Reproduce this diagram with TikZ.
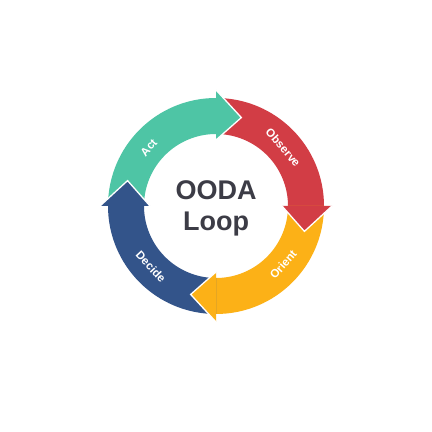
\documentclass[tikz,border=0pt]{standalone}
\usepackage{fontspec}
\setmainfont{Liberation Sans}
\definecolor{ooGreen}{HTML}{4EC5A5}
\definecolor{ooRed}{HTML}{D23D45}
\definecolor{ooYellow}{HTML}{FCB117}
\definecolor{ooBlue}{HTML}{33548A}
\definecolor{ooText}{HTML}{3C3C46}
\tikzset{
  seglabel/.style={text=white, font=\bfseries\fontsize{11.5}{12}\selectfont, inner sep=0pt},
  headedge/.style={draw=white, line width=1.3pt, line join=miter},
}
\begin{document}
\begin{tikzpicture}[x=1pt,y=1pt]
\useasboundingbox (0,0) rectangle (432,432);
\fill[white] (0,0) rectangle (432,432);
\begin{scope}[shift={(216,226)}]
  % shafts
  \fill[ooGreen]  (180:108) arc[start angle=180, end angle=90, radius=108] -- (90:72) arc[start angle=90, end angle=180, radius=72] -- cycle;
  \fill[ooRed]    (90:108) arc[start angle=90, end angle=0, radius=108] -- (0:72) arc[start angle=0, end angle=90, radius=72] -- cycle;
  \fill[ooYellow] (0:108) arc[start angle=0, end angle=-90, radius=108] -- (-90:72) arc[start angle=-90, end angle=0, radius=72] -- cycle;
  \fill[ooBlue]   (-90:108) arc[start angle=-90, end angle=-180, radius=108] -- (-180:72) arc[start angle=-180, end angle=-90, radius=72] -- cycle;
  % arrowheads
  \fill[ooGreen]  (90:66) -- (74:92) -- (90:116) -- cycle;
  \draw[headedge] (90:66) -- (74:92) -- (90:116);
  \fill[ooRed]    (0:66) -- (-16:92) -- (0:116) -- cycle;
  \draw[headedge] (0:66) -- (-16:92) -- (0:116);
  \fill[ooYellow] (-90:66) -- (-106:92) -- (-90:116) -- cycle;
  \draw[headedge] (-90:66) -- (-106:92) -- (-90:116);
  \fill[ooBlue]   (180:66) -- (164:92) -- (180:116) -- cycle;
  \draw[headedge] (180:66) -- (164:92) -- (180:116);
  % labels
  \node[seglabel, rotate=49]  (act) at (139:89) {Act};
  \node[seglabel, rotate=-49] (observe) at (41:89) {Observe};
  \node[seglabel, rotate=49]  (orient) at (-41:89) {Orient};
  \node[seglabel, rotate=-47] (decide) at (-137:89) {Decide};
  % centre text
  \node[text=ooText, font=\bfseries\fontsize{27}{31}\selectfont, align=center, inner sep=0pt] (title) at (0,-2) {OODA\\Loop};
\end{scope}
\end{tikzpicture}
\end{document}
